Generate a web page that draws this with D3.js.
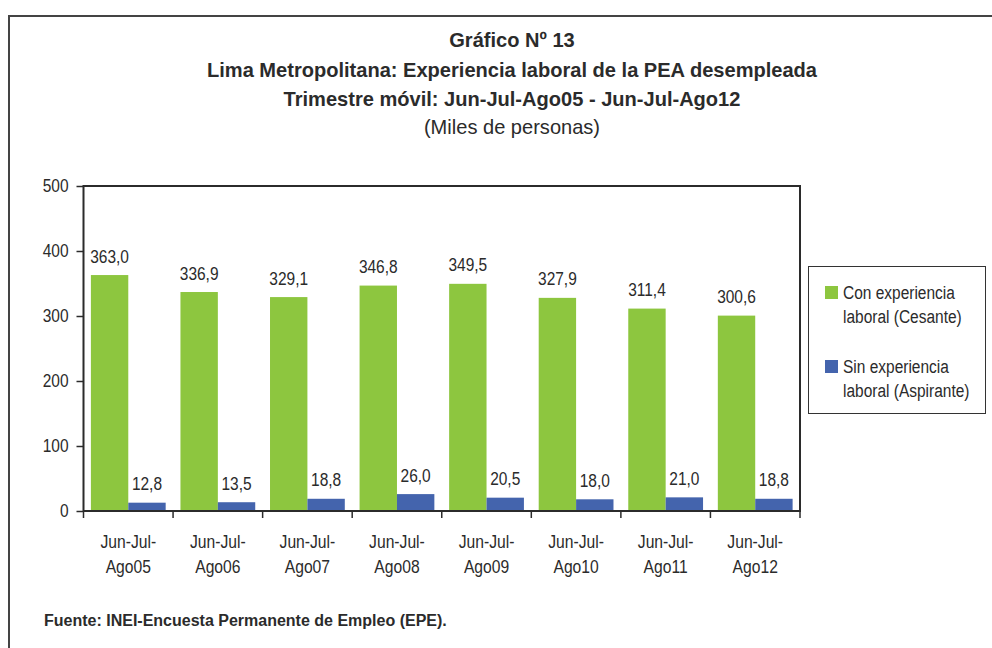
<!DOCTYPE html>
<html>
  <head>
    <meta charset="UTF-8">
    <title>Gráfico Nº 13</title>
    <script src="https://d3js.org/d3.v7.min.js"></script>
    <style>
      body { margin: 0; background: #fff; }
      svg text { font-family: "Liberation Sans", Arial, sans-serif; fill: #2b2b2b; }
    </style>
  </head>
  <body>
    <svg width="992" height="648"></svg>
    <script>
      const categories = ["Jun-Jul-Ago05", "Jun-Jul-Ago06", "Jun-Jul-Ago07", "Jun-Jul-Ago08",
                          "Jun-Jul-Ago09", "Jun-Jul-Ago10", "Jun-Jul-Ago11", "Jun-Jul-Ago12"];
      const conExperiencia = [363.0, 336.9, 329.1, 346.8, 349.5, 327.9, 311.4, 300.6];
      const sinExperiencia = [12.8, 13.5, 18.8, 26.0, 20.5, 18.0, 21.0, 18.8];
      const seriesNames = [["Con experiencia", "laboral (Cesante)"], ["Sin experiencia", "laboral (Aspirante)"]];
      const yTicks = [0, 100, 200, 300, 400, 500];
      const colors = ["#8dc63f", "#4464ad"];

      const svg = d3.select("svg");

      // the original uses a narrow font; squeeze glyphs horizontally
      function condense(sel, k) {
        sel.each(function () {
          const l = this.getComputedTextLength();
          this.setAttribute("textLength", l * k);
          this.setAttribute("lengthAdjust", "spacingAndGlyphs");
        });
      }

      // outer frame
      svg.append("rect")
        .attr("x", 9).attr("y", 16)
        .attr("width", 1000).attr("height", 700)
        .attr("fill", "none")
        .attr("stroke", "#444")
        .attr("stroke-width", 2);

      // titles
      const titles = [
        { t: "Gráfico Nº 13", y: 47, bold: true },
        { t: "Lima Metropolitana: Experiencia laboral de la PEA desempleada", y: 77, bold: true },
        { t: "Trimestre móvil: Jun-Jul-Ago05 - Jun-Jul-Ago12", y: 106, bold: true },
        { t: "(Miles de personas)", y: 134, bold: false }
      ];
      const tt = svg.append("g").selectAll("text")
        .data(titles)
        .join("text")
        .attr("x", 512)
        .attr("y", d => d.y)
        .attr("text-anchor", "middle")
        .attr("font-size", 21)
        .attr("font-weight", d => d.bold ? "bold" : "normal")
        .text(d => d.t);
      condense(tt, 0.955);

      const pLeft = 83.5, pRight = 800, pTop = 186, pBottom = 511;

      const x0 = d3.scaleBand().domain(categories).range([pLeft, pRight]).paddingInner(0.165).paddingOuter(0.0825);
      const x1 = d3.scaleBand().domain([0, 1]).range([0, x0.bandwidth()]);
      const y = d3.scaleLinear().domain([0, 500]).range([pBottom, pTop]);
      const xb = d3.scaleBand().domain(categories).range([pLeft, pRight]);

      const rows = categories.map((c, i) => ({ c, v: [conExperiencia[i], sinExperiencia[i]] }));

      // bars
      const grp = svg.append("g").selectAll("g")
        .data(rows)
        .join("g")
        .attr("transform", d => `translate(${x0(d.c)},0)`);

      grp.selectAll("rect")
        .data(d => d.v.map((v, k) => ({ v, k })))
        .join("rect")
        .attr("x", d => x1(d.k))
        .attr("y", d => y(d.v))
        .attr("width", x1.bandwidth())
        .attr("height", d => y(0) - y(d.v))
        .attr("fill", d => colors[d.k]);

      const vl = grp.selectAll("text")
        .data(d => d.v.map((v, k) => ({ v, k })))
        .join("text")
        .attr("x", d => x1(d.k) + x1.bandwidth() / 2)
        .attr("y", d => y(d.v) - 12.5)
        .attr("text-anchor", "middle")
        .attr("font-size", 18)
        .text(d => d3.format(".1f")(d.v).replace(".", ","));
      condense(vl, 0.86);

      // plot frame
      svg.append("rect")
        .attr("x", pLeft).attr("y", pTop)
        .attr("width", pRight - pLeft).attr("height", pBottom - pTop)
        .attr("fill", "none")
        .attr("stroke", "#2b2b2b")
        .attr("stroke-width", 2);

      // y axis
      const yAxis = svg.append("g")
        .attr("transform", `translate(${pLeft},0)`)
        .call(d3.axisLeft(y).tickValues(yTicks).tickSize(7).tickPadding(8).tickFormat(d3.format("d")));
      yAxis.select(".domain").remove();
      yAxis.selectAll("line").attr("stroke", "#2b2b2b").attr("stroke-width", 1.5);
      yAxis.selectAll("text").attr("font-size", 18).attr("fill", "#2b2b2b")
        .style("font-family", "'Liberation Sans', Arial, sans-serif");
      condense(yAxis.selectAll("text"), 0.86);

      // x ticks at category boundaries
      const bounds = categories.map(c => xb(c)).concat([pRight]);
      svg.append("g").selectAll("line")
        .data(bounds)
        .join("line")
        .attr("x1", d => d).attr("x2", d => d)
        .attr("y1", pBottom).attr("y2", pBottom + 7)
        .attr("stroke", "#2b2b2b")
        .attr("stroke-width", 1.5);

      // x labels on two lines
      const xl = svg.append("g").selectAll("text")
        .data(categories)
        .join("text")
        .attr("x", d => xb(d) + xb.bandwidth() / 2)
        .attr("y", 548)
        .attr("text-anchor", "middle")
        .attr("font-size", 18);
      xl.append("tspan").text(d => d.slice(0, 8));
      xl.append("tspan")
        .attr("x", d => xb(d) + xb.bandwidth() / 2)
        .attr("dy", 25)
        .text(d => d.slice(8));
      condense(xl.selectAll("tspan"), 0.87);

      // legend
      svg.append("rect")
        .attr("x", 808.5).attr("y", 266.5)
        .attr("width", 177).attr("height", 147)
        .attr("fill", "#fff")
        .attr("stroke", "#333")
        .attr("stroke-width", 1);

      const lg = svg.append("g").selectAll("g")
        .data(seriesNames)
        .join("g")
        .attr("transform", (d, i) => `translate(825,${286 + i * 74})`);
      lg.append("rect")
        .attr("width", 13).attr("height", 13)
        .attr("fill", (d, i) => colors[i]);
      const lt = lg.append("text")
        .attr("x", 18)
        .attr("y", 13)
        .attr("font-size", 18);
      lt.append("tspan").text(d => d[0]);
      lt.append("tspan").attr("x", 18).attr("dy", 24).text(d => d[1]);
      condense(lt.selectAll("tspan"), 0.86);

      // source
      svg.append("text")
        .attr("x", 44)
        .attr("y", 626)
        .attr("font-size", 16)
        .attr("font-weight", "bold")
        .text("Fuente: INEI-Encuesta Permanente de Empleo (EPE).");
    </script>
  </body>
</html>
